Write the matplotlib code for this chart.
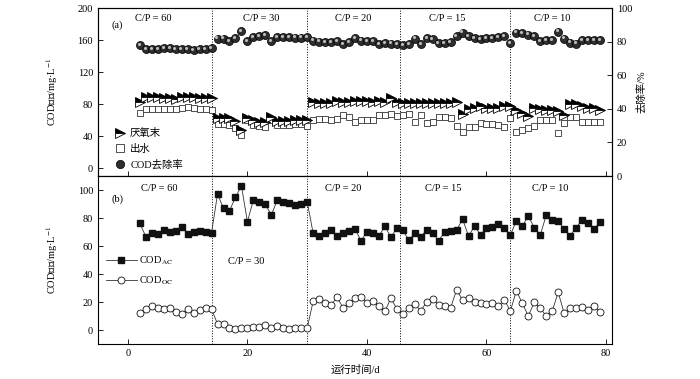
import numpy as np
import matplotlib
matplotlib.use('Agg')
import matplotlib.pyplot as plt
from matplotlib.lines import Line2D
from matplotlib.transforms import ScaledTranslation, blended_transform_factory

plt.rcParams['font.family'] = ['Liberation Serif', 'Noto Sans CJK SC']
plt.rcParams['mathtext.fontset'] = 'stix'
plt.rcParams['font.size'] = 7.5

days = np.arange(2, 80)

# (a) COD at end of anaerobic phase, effluent COD (mg/L), COD removal (%)
cod_anaerobic = [82.5, 89, 89, 88.5, 88, 87.5, 86, 89, 89, 88.5, 88, 88, 87.5,
                 62.5, 62.5, 62, 59, 47, 62, 60, 58, 57, 63.5, 59, 58.5, 58.5, 59.5, 59.5, 59.5,
                 82, 81.5, 81.5, 81, 83.5, 83, 82, 84, 83.5, 83.5, 82.5, 83.5, 82, 88, 82,
                 81.5, 81.5, 81.5, 81, 81, 81, 81.5, 81.5, 81.5, 82, 67, 74, 75, 77, 75.5, 75,
                 75.5, 77, 77, 73, 68.5, 65, 74.5, 74, 72.5, 72, 71, 66, 80.5, 79.5, 77, 75, 75, 73]
cod_effluent = [69, 74, 74, 74, 74, 74, 74, 75, 76, 75, 74, 74, 73,
                55, 55, 54, 50, 41, 60, 54, 52, 51, 60, 54, 54, 54, 55, 55, 53,
                60.5, 60.7, 61.3, 60.5, 61, 65.9, 63.8, 57.5, 60.5, 60, 60, 66.7, 66, 67.1, 65,
                66.7, 67.5, 57.5, 66, 56, 57.5, 63.8, 63.5, 63, 53, 45, 51, 51, 56, 55.4, 54.6,
                53.4, 51.3, 62, 45, 47, 50, 52, 60, 60, 60, 43.5, 56, 64, 64, 57.5, 58, 58, 58]
cod_removal = [77.8, 75.3, 75.5, 75.5, 75.9, 75.9, 75.7, 75.7, 75.5, 74.9, 75.3, 75.3, 75.9,
               81.8, 81.8, 80.3, 82.2, 86.2, 80.3, 82.7, 83.3, 83.7, 80.3, 82.7, 82.7, 82.7,
               82.4, 82.4, 82.7, 80.6, 80.0, 79.8, 79.8, 80.2, 78.6, 79.6, 82.0, 80.6, 80.5,
               80.4, 78.6, 79.0, 78.8, 78.5, 78.0, 78.3, 81.8, 78.3, 82.2, 81.3, 79.3, 79.3,
               79.6, 83.2, 85.3, 83.3, 82.3, 81.6, 82.0, 82.2, 82.5, 83.3, 79.1, 85.3, 84.9,
               84.2, 83.3, 80.5, 80.8, 80.8, 85.9, 81.8, 79.4, 78.8, 81.0, 81.0, 81.0, 81.0]

# (b) COD_AC and COD_OC (mg/L)
cod_ac = [76.2, 66.7, 69.5, 68.3, 71.4, 69.8, 70.9, 73.8, 68.6, 70.2, 70.9, 69.8, 69.5,
          97.1, 86.9, 85.2, 94.8, 102.9, 77.4, 92.9, 91.2, 89.8, 82.1, 92.9, 91.7, 90.9,
          89.3, 90.0, 91.7, 69.0, 67.5, 69.3, 71.6, 67.1, 69.4, 71.0, 72.3, 63.7, 70.2,
          69.0, 67.1, 74.0, 66.4, 72.6, 71.1, 64.3, 69, 66.7, 71.4, 69, 63.8, 70.2, 70.7,
          71.4, 79.3, 67.1, 74.3, 67.9, 73.1, 73.8, 75.5, 73.1, 67.9, 78.1, 74.3, 81.4,
          73.1, 67.9, 82.1, 78.6, 78.1, 71.9, 67.4, 73.1, 78.6, 76.2, 72.1, 77.4]
cod_oc = [12.4, 14.8, 17.1, 15.5, 14.8, 15.5, 13.1, 11.7, 14.8, 12.4, 14.3, 15.5, 14.8,
          4.3, 4.3, 1.2, 0.5, 1.2, 1.2, 2.4, 2.4, 3.6, 1.7, 2.9, 1.2, 0.7, 1.2, 1.7, 1.2,
          20.6, 21.8, 19, 17.9, 23.3, 15.9, 19, 22.6, 23.8, 19.6, 20.8, 16.9, 13.4, 22.6,
          15.2, 11.4, 15.8, 18.6, 13.6, 20.2, 22.1, 17.9, 17.1, 16, 28.6, 21.4, 22.6, 19.8,
          19, 18.6, 19, 17.1, 21.4, 13.6, 28.1, 19, 10, 19.8, 15.5, 10, 13.6, 26.9, 11.9,
          15.5, 15.5, 16.7, 14.3, 17.4, 13.1]

phase_bounds = [14, 30, 45.6, 63.9]
phase_names = ['C/P = 60', 'C/P = 30', 'C/P = 20', 'C/P = 15', 'C/P = 10']
label_x_a = [4.3, 22.3, 37.7, 53.5, 71]
label_x_b = [5.2, 19.8, 36, 52.7, 70.6]
label_y_b = [0.923, 0.494, 0.923, 0.923, 0.923]


def style_axis(ax):
    for s in ax.spines.values():
        s.set_linewidth(0.8)
    ax.tick_params(direction='in', length=3.5, width=0.6, labelsize=7.5)


fig = plt.figure(figsize=(7, 3.79), dpi=100)
ax1 = fig.add_axes([98 / 700, 1 - 176 / 379, 514 / 700, 168 / 379])
ax2 = fig.add_axes([98 / 700, 1 - 344 / 379, 514 / 700, 168 / 379])
ax1r = ax1.twinx()

# ---- panel (a)
ax1.plot(days, cod_anaerobic, linestyle='none', marker='>', markersize=7.5, fillstyle='top',
         markerfacecolor='k', markerfacecoloralt='white', markeredgecolor='k',
         markeredgewidth=0.6, zorder=3)
ax1.plot(days, cod_effluent, linestyle='none', marker='s', markersize=5,
         markerfacecolor='white', markeredgecolor='#333333', markeredgewidth=0.6, zorder=2)
ax1r.plot(days, cod_removal, linestyle='none', marker='o', markersize=5.8,
          markerfacecolor='#2e2e2e', markeredgecolor='k', markeredgewidth=0.5)
hl = ax1r.transData + ScaledTranslation(-1.2 / 100, 1.2 / 100, fig.dpi_scale_trans)
ax1r.plot(days, cod_removal, linestyle='none', marker='o', markersize=2.2,
          markerfacecolor='#bdbdbd', markeredgecolor='none', transform=hl)

ax1.set_xlim(-5, 81)
ax1.set_ylim(-10, 200)
ax1.set_yticks([0, 40, 80, 120, 160, 200])
ax1.set_xticks([0, 20, 40, 60, 80])
ax1.set_xticklabels([])
ax1r.set_ylim(0, 100)
ax1r.set_yticks([0, 20, 40, 60, 80, 100])
style_axis(ax1)
style_axis(ax1r)
ax1.set_ylabel('COD浓度/mg·L$^{-1}$', fontsize=7.5)
ax1.yaxis.set_label_coords(-0.074, 0.5)
ax1r.set_ylabel('去除率/%', fontsize=7.5, labelpad=3)

h_an = Line2D([], [], linestyle='none', marker='>', markersize=7, fillstyle='top',
              markerfacecolor='k', markerfacecoloralt='white', markeredgecolor='k',
              markeredgewidth=0.6)
h_ef = Line2D([], [], linestyle='none', marker='s', markersize=5.5,
              markerfacecolor='white', markeredgecolor='#333333', markeredgewidth=0.6)
h_rm = Line2D([], [], linestyle='none', marker='o', markersize=6,
              markerfacecolor='#2e2e2e', markeredgecolor='k', markeredgewidth=0.5)
ax1.legend([h_an, h_ef, h_rm], ['厌氧末', '出水', 'COD去除率'], loc='lower left',
           bbox_to_anchor=(0.02, 0.0), frameon=False, fontsize=7.5,
           handlelength=1.0, handletextpad=0.5, labelspacing=0.55, borderaxespad=0.2)

tr1 = blended_transform_factory(ax1.transData, ax1.transAxes)
for x, name in zip(label_x_a, phase_names):
    ax1.text(x, 0.94, name, transform=tr1, ha='center', va='center', fontsize=7.5)
ax1.text(0.037, 0.9, '(a)', transform=ax1.transAxes, ha='center', va='center', fontsize=7.5)

# ---- panel (b)
ax2.plot(days, cod_ac, color='#333333', linewidth=0.6, marker='s', markersize=5,
         markerfacecolor='#111111', markeredgecolor='#111111', label='COD$_{\\mathrm{AC}}$')
ax2.plot(days, cod_oc, color='#333333', linewidth=0.6, marker='o', markersize=5,
         markerfacecolor='white', markeredgecolor='#111111', markeredgewidth=0.6,
         label='COD$_{\\mathrm{OC}}$')
ax2.set_xlim(-5, 81)
ax2.set_ylim(-10, 110)
ax2.set_yticks([0, 20, 40, 60, 80, 100])
ax2.set_xticks([0, 20, 40, 60, 80])
style_axis(ax2)
ax2.set_ylabel('COD浓度/mg·L$^{-1}$', fontsize=7.5)
ax2.yaxis.set_label_coords(-0.074, 0.5)
ax2.set_xlabel('运行时间/d', fontsize=7.5, labelpad=5)
ax2.legend(loc='lower left', bbox_to_anchor=(0.003, 0.3), frameon=False, fontsize=7.5,
           handlelength=3.0, handletextpad=0.2, labelspacing=0.75, borderaxespad=0.2)

tr2 = blended_transform_factory(ax2.transData, ax2.transAxes)
for x, y, name in zip(label_x_b, label_y_b, phase_names):
    ax2.text(x, y, name, transform=tr2, ha='center', va='center', fontsize=7.5)
ax2.text(0.037, 0.863, '(b)', transform=ax2.transAxes, ha='center', va='center', fontsize=7.5)

for ax in [ax1, ax2]:
    for b in phase_bounds:
        ax.axvline(b, color='k', linestyle=':', linewidth=0.7, zorder=0)

fig.savefig('out.png', dpi=100)
